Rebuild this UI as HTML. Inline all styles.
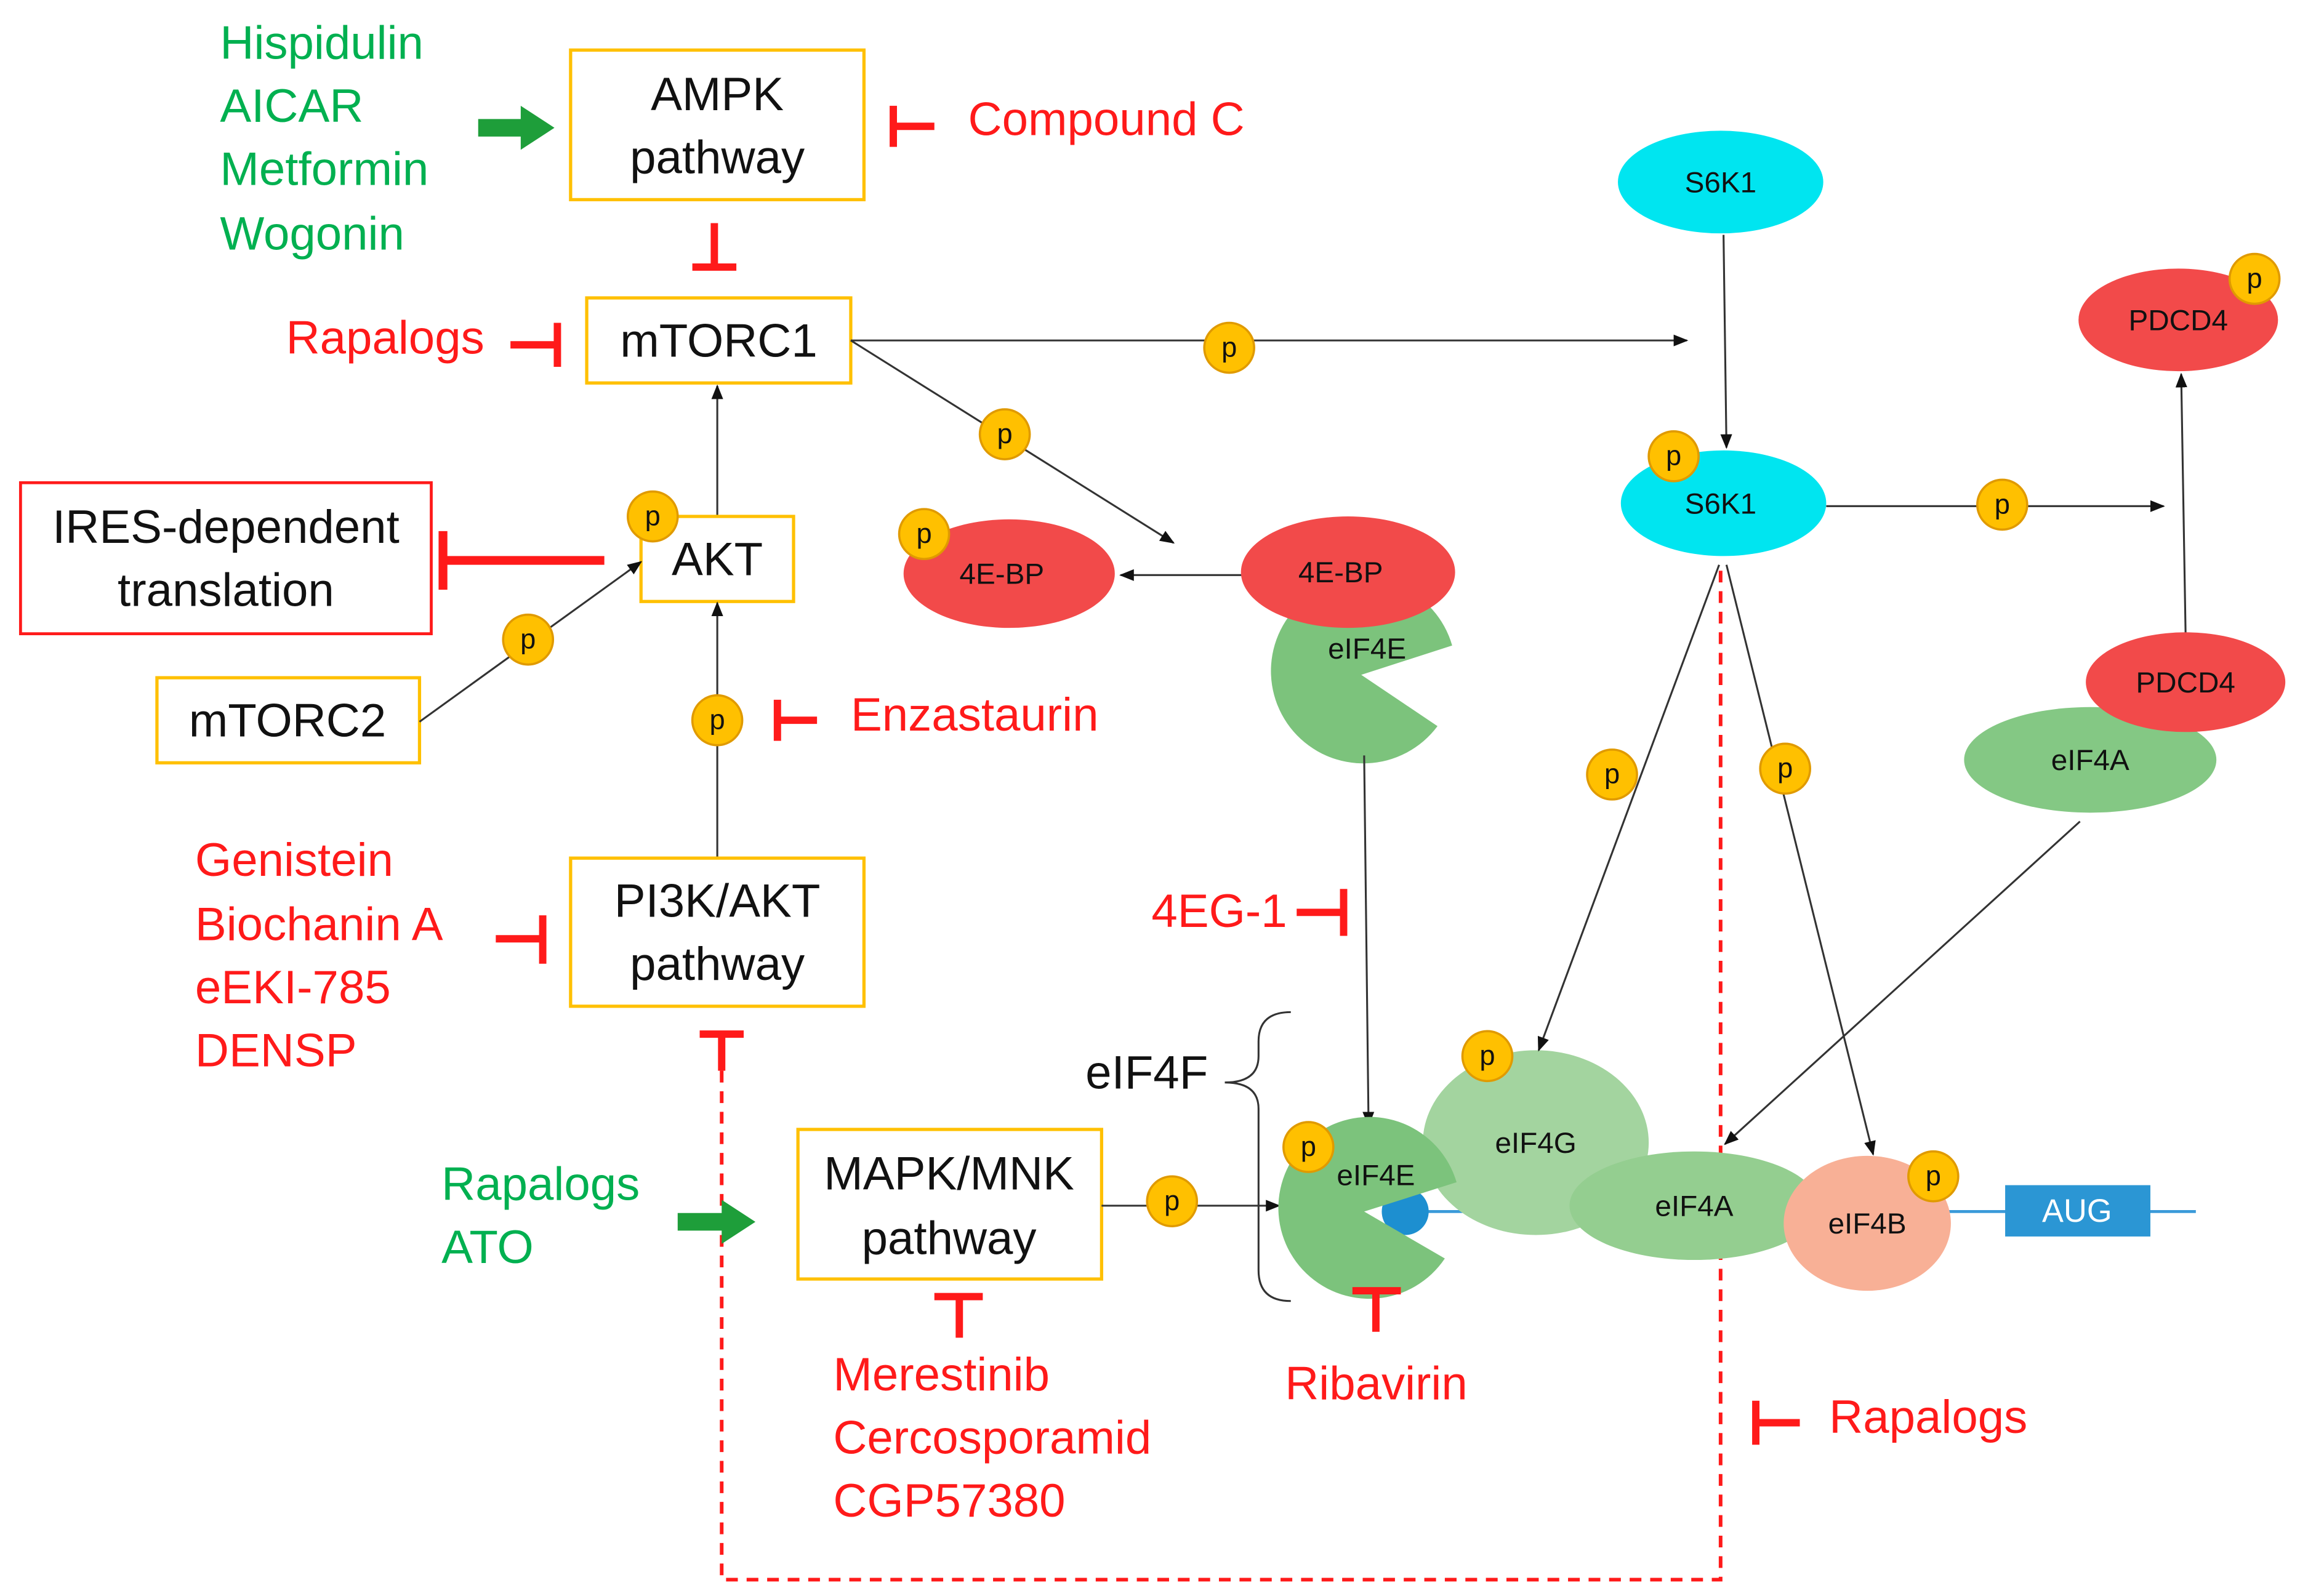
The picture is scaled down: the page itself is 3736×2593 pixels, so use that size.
<!DOCTYPE html>
<html><head><meta charset="utf-8"><style>
html,body{margin:0;padding:0;background:#fff;}
svg{display:block;}
text{font-family:"Liberation Sans",sans-serif;}
.big{font-size:32px;}
.g{fill:#00b050;}
.r{fill:#ff1a1a;}
.k{fill:#111;}
.sm{font-size:20px;fill:#111;}
.box{fill:#fff;stroke:#ffc000;stroke-width:2.2;}
.ln{stroke:#333;stroke-width:1.3;fill:none;}
.inh{stroke:#ff1a1a;stroke-width:5;fill:none;}
</style></head><body>
<svg width="3736" height="2593" viewBox="0 0 1568 1088" xmlns="http://www.w3.org/2000/svg">
<defs>
<marker id="ah" markerWidth="10" markerHeight="8" refX="9" refY="4" orient="auto" markerUnits="userSpaceOnUse"><path d="M0,0 L10,4 L0,8 z" fill="#111"/></marker>
<g id="pc"><circle r="17" fill="#ffc000" stroke="#e09a00" stroke-width="1.5"/><text y="6" text-anchor="middle" font-size="19" fill="#111">p</text></g>
</defs>

<path d="M492,730 L492,1077 L1173,1077 L1173,385" stroke="#ff1a1a" stroke-width="2.5" stroke-dasharray="8,6" fill="none"/>

<text class="big g" x="150" y="40">Hispidulin</text>
<text class="big g" x="150" y="83">AICAR</text>
<text class="big g" x="150" y="126">Metformin</text>
<text class="big g" x="150" y="170">Wogonin</text>
<path d="M326,81 L355,81 L355,72 L378,87 L355,102 L355,93 L326,93 z" fill="#1e9e3a"/>

<rect class="box" x="389" y="34" width="200" height="102"/>
<text class="big k" x="489" y="75" text-anchor="middle">AMPK</text>
<text class="big k" x="489" y="118" text-anchor="middle">pathway</text>
<path class="inh" d="M609,72 L609,100 M609,86 L637,86"/>
<text class="big r" x="660" y="92">Compound C</text>
<path class="inh" d="M487,152 L487,182 M472,182 L502,182"/>

<rect class="box" x="400" y="203" width="180" height="58"/>
<text class="big k" x="490" y="243" text-anchor="middle">mTORC1</text>
<text class="big r" x="195" y="241">Rapalogs</text>
<path class="inh" d="M348,235 L380,235 M380,220 L380,250"/>

<line class="ln" x1="580" y1="232" x2="1150" y2="232" marker-end="url(#ah)"/>
<line class="ln" x1="580" y1="232" x2="800" y2="370" marker-end="url(#ah)"/>
<use href="#pc" x="838" y="237"/>
<use href="#pc" x="685" y="296"/>

<line class="ln" x1="489" y1="352" x2="489" y2="263" marker-end="url(#ah)"/>
<rect class="box" x="437" y="352" width="104" height="58"/>
<text class="big k" x="489" y="392" text-anchor="middle">AKT</text>
<use href="#pc" x="445" y="352"/>

<rect x="14" y="329" width="280" height="103" fill="#fff" stroke="#ff1a1a" stroke-width="2"/>
<text class="big k" x="154" y="370" text-anchor="middle">IRES-dependent</text>
<text class="big k" x="154" y="413" text-anchor="middle">translation</text>
<path d="M302,382 L412,382 M302,362 L302,402" stroke="#ff1a1a" stroke-width="6" fill="none"/>

<rect class="box" x="107" y="462" width="179" height="58"/>
<text class="big k" x="196" y="502" text-anchor="middle">mTORC2</text>
<line class="ln" x1="286" y1="492" x2="437" y2="383" marker-end="url(#ah)"/>
<use href="#pc" x="360" y="436"/>

<line class="ln" x1="489" y1="585" x2="489" y2="411" marker-end="url(#ah)"/>
<use href="#pc" x="489" y="491"/>
<path class="inh" d="M530,477 L530,505 M530,491 L557,491"/>
<text class="big r" x="580" y="498">Enzastaurin</text>

<rect class="box" x="389" y="585" width="200" height="101"/>
<text class="big k" x="489" y="625" text-anchor="middle">PI3K/AKT</text>
<text class="big k" x="489" y="668" text-anchor="middle">pathway</text>
<text class="big r" x="133" y="597">Genistein</text>
<text class="big r" x="133" y="641">Biochanin A</text>
<text class="big r" x="133" y="684">eEKI-785</text>
<text class="big r" x="133" y="727">DENSP</text>
<path class="inh" d="M338,640 L370,640 M370,624 L370,657"/>
<path class="inh" d="M477,705 L507,705 M492,705 L492,730"/>

<text class="big g" x="301" y="818">Rapalogs</text>
<text class="big g" x="301" y="861">ATO</text>
<path d="M462,827 L492,827 L492,818 L515,833 L492,848 L492,839 L462,839 z" fill="#1e9e3a"/>

<rect class="box" x="544" y="770" width="207" height="102"/>
<text class="big k" x="647" y="811" text-anchor="middle">MAPK/MNK</text>
<text class="big k" x="647" y="855" text-anchor="middle">pathway</text>
<line class="ln" x1="751" y1="822" x2="872" y2="822" marker-end="url(#ah)"/>
<use href="#pc" x="799" y="819"/>
<path class="inh" d="M637,884 L670,884 M654,884 L654,912"/>
<text class="big r" x="568" y="948">Merestinib</text>
<text class="big r" x="568" y="991">Cercosporamid</text>
<text class="big r" x="568" y="1034">CGP57380</text>

<text class="big k" x="740" y="742">eIF4F</text>
<path d="M880,690 Q858,690 858,710 L858,720 Q858,738 835,738 Q858,738 858,756 L858,866 Q858,887 880,887" stroke="#333" stroke-width="1.3" fill="none"/>

<line class="ln" x1="847" y1="392" x2="764" y2="392" marker-end="url(#ah)"/>
<ellipse cx="688" cy="391" rx="72" ry="37" fill="#f24a4a"/>
<text class="sm" x="683" y="398" text-anchor="middle">4E-BP</text>
<use href="#pc" x="630" y="364"/>
<path d="M928,460 L990,440 A63,63 0 1 0 980,495 z" fill="#7cc37c"/>
<ellipse cx="919" cy="390" rx="73" ry="38" fill="#f24a4a"/>
<text class="sm" x="914" y="397" text-anchor="middle">4E-BP</text>
<text class="sm" x="932" y="449" text-anchor="middle">eIF4E</text>
<line class="ln" x1="930" y1="515" x2="933" y2="767" marker-end="url(#ah)"/>
<text class="big r" x="785" y="632">4EG-1</text>
<path class="inh" d="M884,622 L916,622 M916,606 L916,638"/>

<line x1="955" y1="826" x2="1497" y2="826" stroke="#3a9ad9" stroke-width="2"/>
<ellipse cx="1047" cy="779" rx="77" ry="63" fill="#a3d49f"/>
<text class="sm" x="1047" y="786" text-anchor="middle">eIF4G</text>
<circle cx="958" cy="826" r="16" fill="#1d8fd0"/>
<path d="M930,826 L993,806 A62,62 0 1 0 985,858 z" fill="#7cc37c"/>
<text class="sm" x="938" y="808" text-anchor="middle">eIF4E</text>
<use href="#pc" x="892" y="782"/>
<use href="#pc" x="1014" y="720"/>
<ellipse cx="1155" cy="822" rx="85" ry="37" fill="#94ce90"/>
<text class="sm" x="1155" y="829" text-anchor="middle">eIF4A</text>
<ellipse cx="1273" cy="834" rx="57" ry="46" fill="#f8b096"/>
<text class="sm" x="1273" y="841" text-anchor="middle">eIF4B</text>
<use href="#pc" x="1318" y="802"/>
<rect x="1367" y="808" width="99" height="35" fill="#2b96d4"/>
<text x="1416" y="833" text-anchor="middle" font-size="22" fill="#fff">AUG</text>
<path class="inh" d="M922,880 L955,880 M938,880 L938,908"/>
<text class="big r" x="876" y="954">Ribavirin</text>

<ellipse cx="1173" cy="124" rx="70" ry="35" fill="#00e5f0"/>
<text class="sm" x="1173" y="131" text-anchor="middle">S6K1</text>
<line class="ln" x1="1175" y1="160" x2="1177" y2="305" marker-end="url(#ah)"/>
<ellipse cx="1175" cy="343" rx="70" ry="36" fill="#00e5f0"/>
<text class="sm" x="1173" y="350" text-anchor="middle">S6K1</text>
<use href="#pc" x="1141" y="311"/>
<line class="ln" x1="1245" y1="345" x2="1475" y2="345" marker-end="url(#ah)"/>
<use href="#pc" x="1365" y="344"/>
<line class="ln" x1="1172" y1="385" x2="1049" y2="716" marker-end="url(#ah)"/>
<line class="ln" x1="1177" y1="385" x2="1277" y2="787" marker-end="url(#ah)"/>
<use href="#pc" x="1099" y="528"/>
<use href="#pc" x="1217" y="524"/>

<ellipse cx="1485" cy="218" rx="68" ry="35" fill="#f24a4a"/>
<text class="sm" x="1485" y="225" text-anchor="middle">PDCD4</text>
<use href="#pc" x="1537" y="190"/>
<line class="ln" x1="1490" y1="432" x2="1487" y2="255" marker-end="url(#ah)"/>
<ellipse cx="1425" cy="518" rx="86" ry="36" fill="#84c884"/>
<text class="sm" x="1425" y="525" text-anchor="middle">eIF4A</text>
<ellipse cx="1490" cy="465" rx="68" ry="34" fill="#f24a4a"/>
<text class="sm" x="1490" y="472" text-anchor="middle">PDCD4</text>
<line class="ln" x1="1418" y1="560" x2="1176" y2="780" marker-end="url(#ah)"/>

<path class="inh" d="M1197,955 L1197,985 M1197,970 L1227,970"/>
<text class="big r" x="1247" y="977">Rapalogs</text>
</svg>
</body></html>
